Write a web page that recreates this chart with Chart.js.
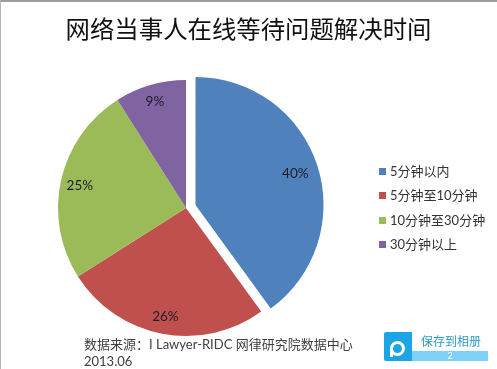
<!DOCTYPE html>
<html>
<head>
<meta charset="utf-8">
<script src="https://cdn.jsdelivr.net/npm/chart.js@4"></script>
<style>
html, body { margin: 0; padding: 0; background: #fff; }
#wrap { position: relative; width: 497px; height: 369px; overflow: hidden; background: #fff; font-family: Lato, "Noto Sans CJK SC", sans-serif; }
#edgeTop { position: absolute; left: 0; top: 0; width: 497px; height: 2px; background: #9c9c9c; }
#edgeLeft { position: absolute; left: 0; top: 0; width: 1px; height: 369px; background: #b4b4b4; }
#title { position: absolute; left: 0; top: 10px; width: 497px; text-align: center; font-family: "Noto Sans CJK SC", sans-serif; font-size: 24.4px; line-height: 36px; color: #111; }
#legend { position: absolute; left: 379px; top: 159px; margin: 0; padding: 0; list-style: none; font-size: 13px; color: #333; }
#legend li { height: 24.3px; line-height: 24.3px; white-space: nowrap; }
#legend i { display: inline-block; width: 7px; height: 7px; margin-right: 4px; vertical-align: 1px; }
#source { position: absolute; left: 84px; top: 336px; font-size: 13px; line-height: 17px; color: #404040; white-space: nowrap; }
#save { position: absolute; left: 384px; top: 332px; width: 104px; height: 29px; }
#saveIcon { position: absolute; left: 0; top: 0; width: 28px; height: 29px; background: #1ba5e4; border-radius: 2px 0 0 2px; }
#saveIcon span { position: absolute; left: 6px; top: 9px; width: 9px; height: 9px; border: 3px solid #fff; border-radius: 50%; }
#saveIcon b { position: absolute; left: 6px; top: 16px; width: 3px; height: 9px; background: #fff; }
#saveText { position: absolute; left: 37px; top: 1px; font-size: 12px; line-height: 18px; color: #2a9bc9; white-space: nowrap; }
#saveBar { position: absolute; left: 28px; top: 19px; width: 76px; height: 10px; background: #7fd0f6; color: #fff; font-size: 9px; line-height: 10px; text-align: center; }
</style>
</head>
<body>
<div id="wrap">
  <canvas id="pieChart" width="497" height="369"></canvas>
  <div id="edgeTop"></div>
  <div id="edgeLeft"></div>
  <div id="title"></div>
  <ul id="legend"></ul>
  <div id="source">数据来源：I Lawyer-RIDC 网律研究院数据中心<br>2013.06</div>
  <div id="save">
    <div id="saveIcon"><span></span><b></b></div>
    <div id="saveText">保存到相册</div>
    <div id="saveBar">2</div>
  </div>
</div>
<script>
const titleText = '网络当事人在线等待问题解决时间';
const categories = ['5分钟以内', '5分钟至10分钟', '10分钟至30分钟', '30分钟以上'];
const shares = [40, 26, 25, 9];
const sliceColors = ['#4f81bd', '#c0504d', '#9bbb59', '#8064a2'];
const explode = [10, 0, 0, 0];
const labelRadius = [0.82, 0.86, 0.85, 0.87];

// Chart.js grows an offset arc as well as moving it, so pull the slice out here instead
const explodeSlices = {
    id: 'explodeSlices',
    afterDatasetUpdate(chart) {
        chart.getDatasetMeta(0).data.forEach((arc, i) => {
            const mid = (arc.startAngle + arc.endAngle) / 2;
            arc.x += Math.cos(mid) * explode[i];
            arc.y += Math.sin(mid) * explode[i];
        });
    }
};

// Percent labels sit inside each slice, toward the rim
const sliceLabels = {
    id: 'sliceLabels',
    afterDatasetsDraw(chart) {
        const ctx = chart.ctx;
        const arcs = chart.getDatasetMeta(0).data;
        ctx.save();
        ctx.font = '13.5px Lato, sans-serif';
        ctx.fillStyle = '#1c1c28';
        ctx.textAlign = 'center';
        ctx.textBaseline = 'middle';
        arcs.forEach((arc, i) => {
            const mid = (arc.startAngle + arc.endAngle) / 2;
            const r = arc.outerRadius * labelRadius[i];
            ctx.fillText(shares[i] + '%', arc.x + Math.cos(mid) * r, arc.y + Math.sin(mid) * r + 1);
        });
        ctx.restore();
    }
};

new Chart(document.getElementById('pieChart'), {
    type: 'pie',
    data: {
        labels: categories,
        datasets: [{
            data: shares,
            backgroundColor: sliceColors,
            borderWidth: 0,
            radius: 128
        }]
    },
    plugins: [explodeSlices, sliceLabels],
    options: {
        responsive: false,
        animation: false,
        layout: { padding: { top: 47, left: 0, right: 125, bottom: 0 } },
        plugins: {
            tooltip: { enabled: false },
            legend: { display: false },
            title: { display: false }
        }
    }
});

document.getElementById('title').textContent = titleText;

// Legend is built from the same arrays
document.getElementById('legend').innerHTML = categories.map((c, i) =>
    `<li><i style="background:${sliceColors[i]}"></i>${c}</li>`).join('');
</script>
</body>
</html>
